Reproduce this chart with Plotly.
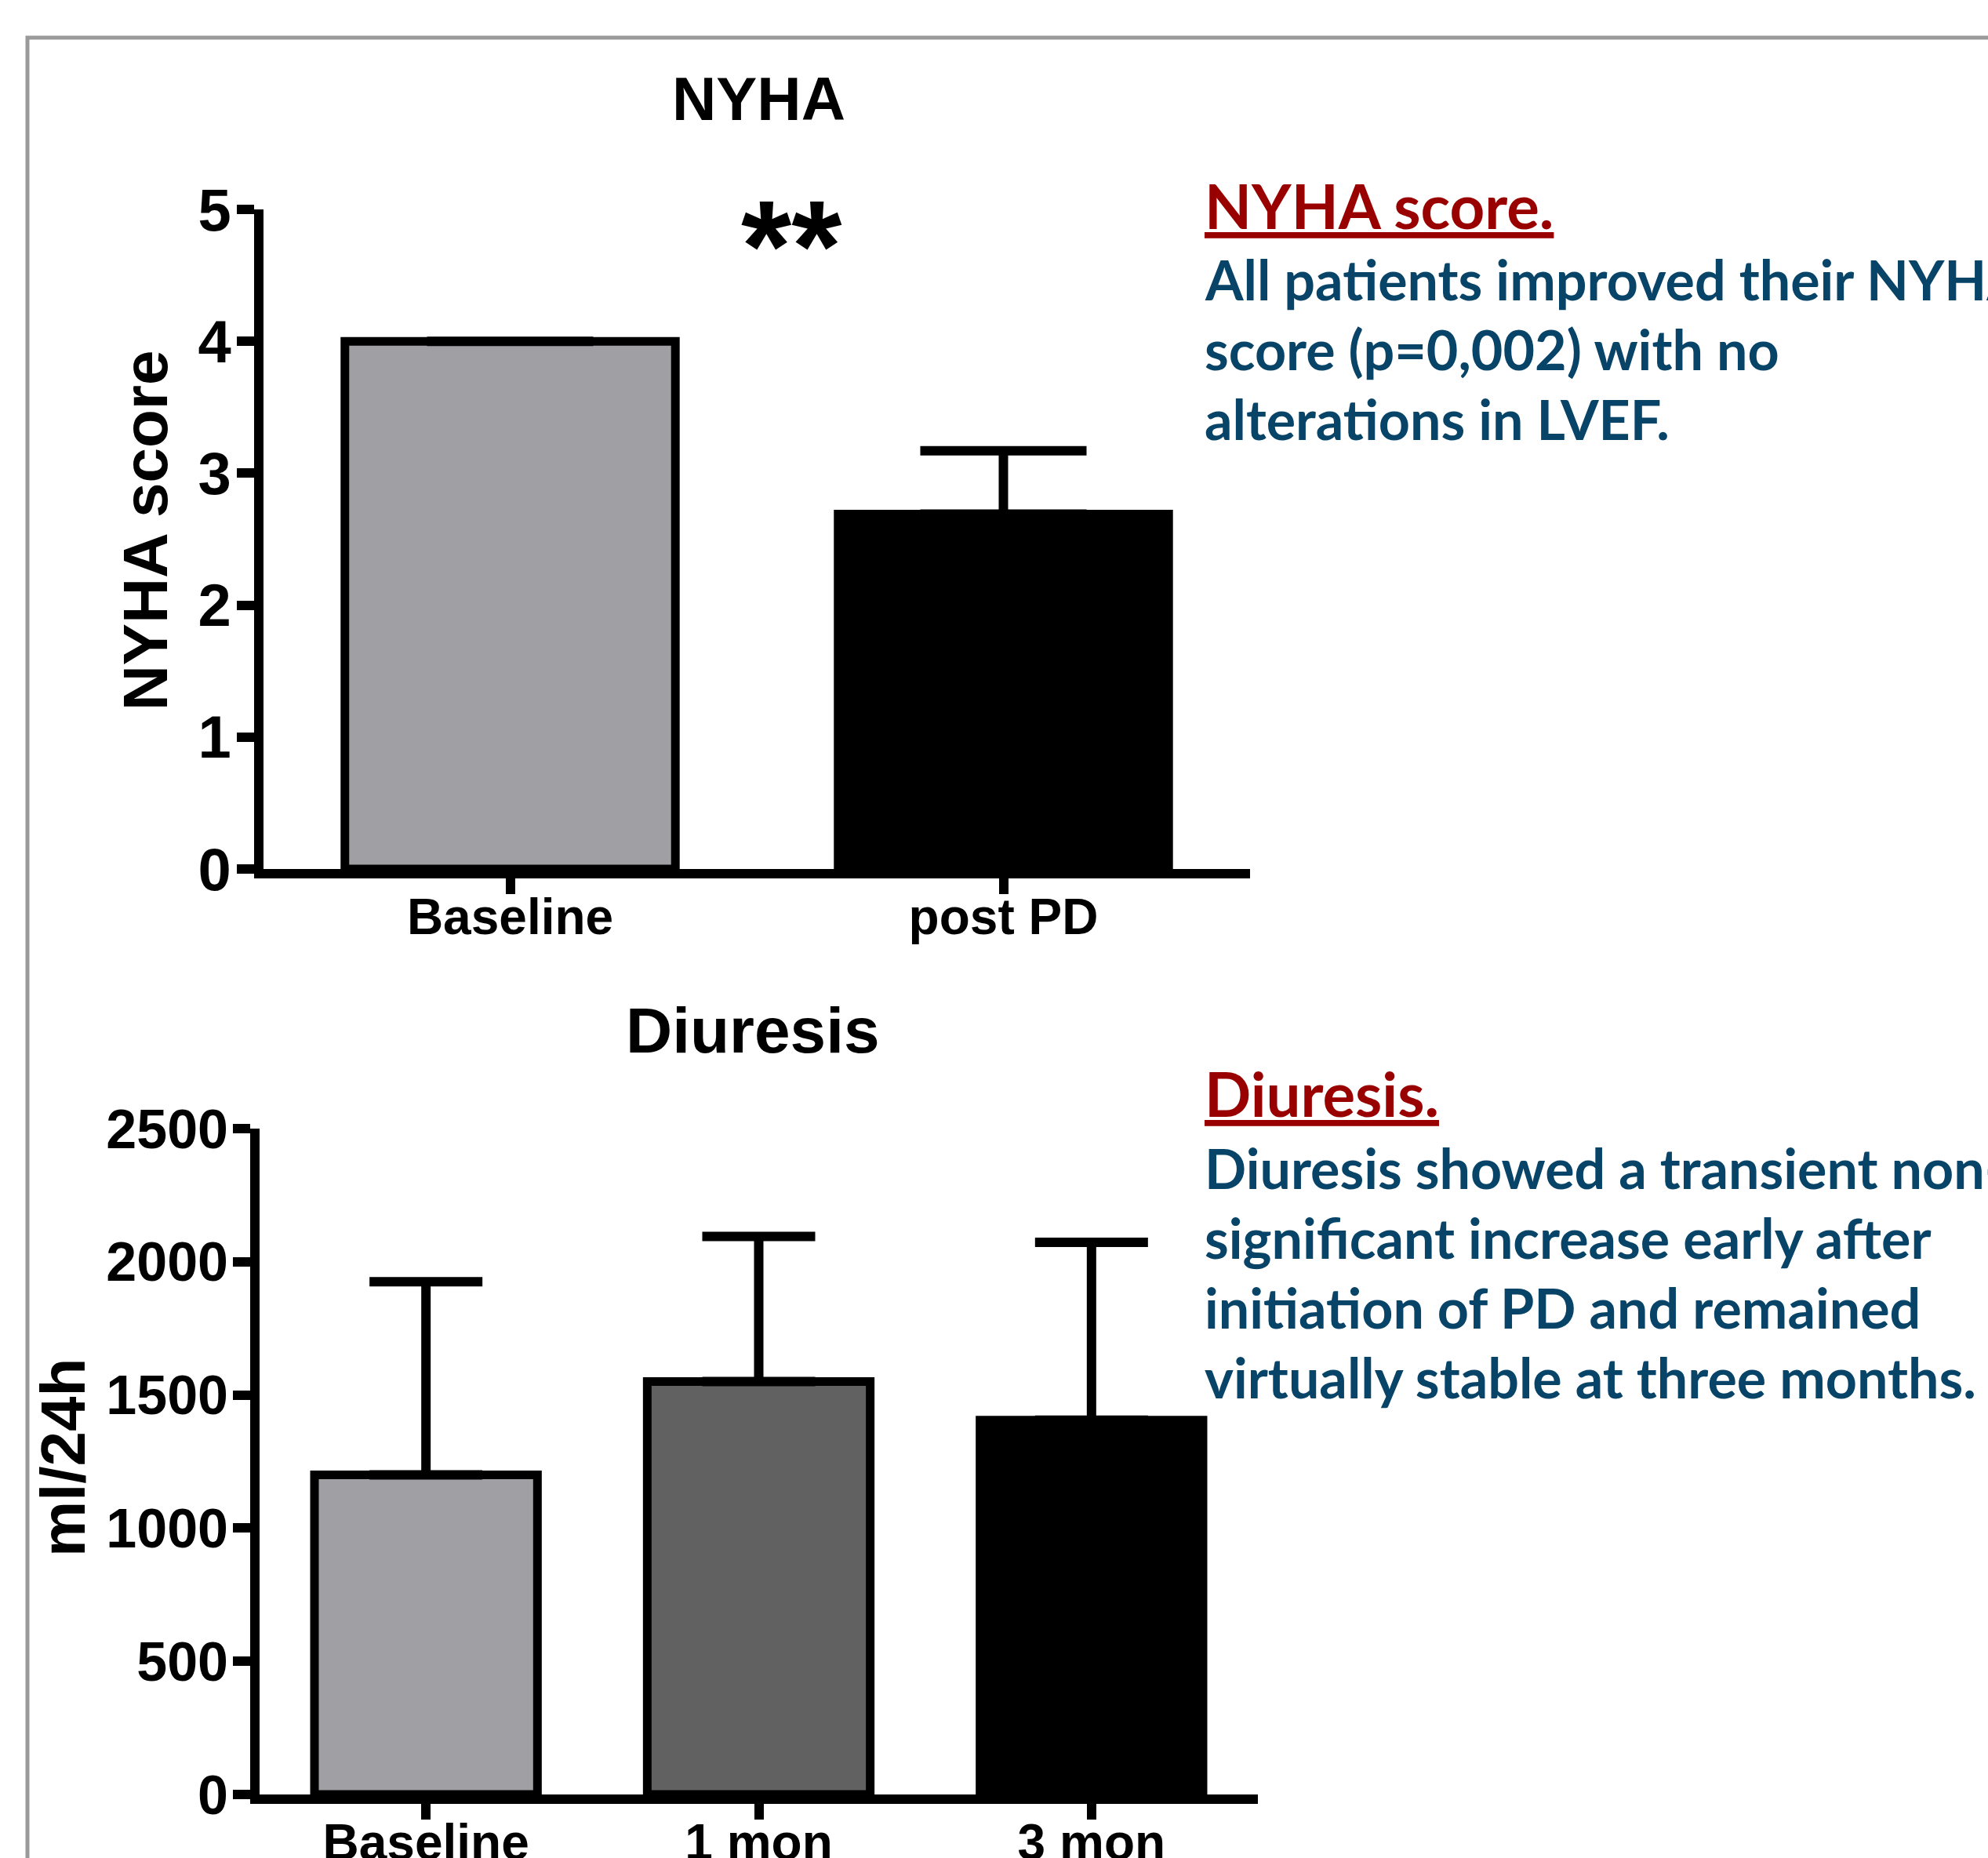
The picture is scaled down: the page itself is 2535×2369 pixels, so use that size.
import plotly.graph_objects as go

W, H = 2535, 2369

# ---------------- data ----------------
nyha_categories = ["Baseline", "post PD"]
nyha_values = [4.0, 2.69]
nyha_sd = [0.0, 0.48]
nyha_colors = ["#a09fa4", "#000000"]
nyha_ticks = [0, 1, 2, 3, 4, 5]

diu_categories = ["Baseline", "1 mon", "3 mon"]
diu_values = [1200, 1550, 1405]
diu_sd = [725, 545, 668]
diu_colors = ["#a09fa4", "#616161", "#000000"]
diu_ticks = [0, 500, 1000, 1500, 2000, 2500]

# ---------------- helpers ----------------
def px_x(p):
    return p / W

def px_y(p):
    return (H - p) / H

CHART_FONT = "Liberation Sans, Arial, sans-serif"
TEXT_FONT = "Lato, Open Sans, sans-serif"
RED = "#990000"
BLUE = "#084468"

fig = go.Figure()

fig.add_trace(go.Bar(
    x=list(range(len(nyha_categories))), y=nyha_values,
    width=0.67,
    marker=dict(color=nyha_colors, line=dict(color="black", width=11)),
    error_y=dict(type="data", symmetric=False, array=nyha_sd,
                 arrayminus=[0] * len(nyha_sd), color="black",
                 thickness=12, width=106),
    xaxis="x", yaxis="y", showlegend=False,
))

fig.add_trace(go.Bar(
    x=list(range(len(diu_categories))), y=diu_values,
    width=0.67,
    marker=dict(color=diu_colors, line=dict(color="black", width=11)),
    error_y=dict(type="data", symmetric=False, array=diu_sd,
                 arrayminus=[0] * len(diu_sd), color="black",
                 thickness=12, width=72),
    xaxis="x2", yaxis="y2", showlegend=False,
))

axis_common = dict(
    showline=True, linecolor="black", linewidth=12,
    ticks="outside", tickcolor="black", tickwidth=12,
    showgrid=False, zeroline=False, fixedrange=True, automargin=False,
)

fig.update_layout(
    width=W, height=H,
    margin=dict(l=0, r=0, t=0, b=0, pad=0, autoexpand=False),
    paper_bgcolor="white", plot_bgcolor="white",
    bargap=0,
    xaxis=dict(
        domain=[px_x(336), px_x(1594)], anchor="y",
        range=[-0.5, len(nyha_categories) - 0.5],
        tickmode="array", tickvals=list(range(len(nyha_categories))),
        ticktext=nyha_categories, ticklen=20, ticklabelstandoff=-26,
        tickfont=dict(family=CHART_FONT, size=64, color="black", weight="bold"),
        **axis_common,
    ),
    yaxis=dict(
        domain=[px_y(1108), px_y(267)], anchor="x",
        range=[0, 5], tickmode="array", tickvals=nyha_ticks, ticklen=22,
        ticklabelstandoff=-8,
        tickfont=dict(family=CHART_FONT, size=76, color="black", weight="bold"),
        **axis_common,
    ),
    xaxis2=dict(
        domain=[px_x(331), px_x(1604)], anchor="y2",
        range=[-0.5, len(diu_categories) - 0.5],
        tickmode="array", tickvals=list(range(len(diu_categories))),
        ticktext=diu_categories, ticklen=20, ticklabelstandoff=-26,
        tickfont=dict(family=CHART_FONT, size=64, color="black", weight="bold"),
        **axis_common,
    ),
    yaxis2=dict(
        domain=[px_y(2288), px_y(1439)], anchor="x2",
        range=[0, 2500], tickmode="array", tickvals=diu_ticks, ticklen=22,
        ticklabelstandoff=-8,
        tickfont=dict(family=CHART_FONT, size=70, color="black", weight="bold"),
        **axis_common,
    ),
)

ann = []
# chart titles
ann.append(dict(text="NYHA", x=px_x(967), y=px_y(126), xref="paper", yref="paper",
                xanchor="center", yanchor="middle", showarrow=False,
                font=dict(family=CHART_FONT, size=78, color="black", weight="bold")))
ann.append(dict(text="Diuresis", x=px_x(960), y=px_y(1313), xref="paper", yref="paper",
                xanchor="center", yanchor="middle", showarrow=False,
                font=dict(family=CHART_FONT, size=82, color="black", weight="bold")))
# y axis titles
ann.append(dict(text="NYHA score", x=px_x(186), y=px_y(677), xref="paper", yref="paper",
                xanchor="center", yanchor="middle", showarrow=False, textangle=-90,
                font=dict(family=CHART_FONT, size=80, color="black", weight="bold")))
ann.append(dict(text="ml/24h", x=px_x(80), y=px_y(1859), xref="paper", yref="paper",
                xanchor="center", yanchor="middle", showarrow=False, textangle=-90,
                font=dict(family=CHART_FONT, size=80, color="black", weight="bold")))
# significance
ann.append(dict(text="**", x=0.57, y=4.72, xref="x", yref="y",
                xanchor="center", yanchor="middle", showarrow=False,
                font=dict(family=CHART_FONT, size=165, color="black", weight="bold")))

# side texts
TX = px_x(1534)
ann.append(dict(text="<u>NYHA score.</u>", x=TX, y=px_y(262), xref="paper", yref="paper",
                xanchor="left", yanchor="middle", showarrow=False,
                font=dict(family=TEXT_FONT, size=78, color=RED, weight="bold")))
nyha_lines = ["All patients improved their NYHA",
              "score (p=0,002) with no",
              "alterations in LVEF."]
for i, line in enumerate(nyha_lines):
    ann.append(dict(text=line, x=TX, y=px_y(356 + 89 * i), xref="paper", yref="paper",
                    xanchor="left", yanchor="middle", showarrow=False,
                    font=dict(family=TEXT_FONT, size=70, color=BLUE, weight="bold")))

ann.append(dict(text="<u>Diuresis.</u>", x=TX, y=px_y(1394), xref="paper", yref="paper",
                xanchor="left", yanchor="middle", showarrow=False,
                font=dict(family=TEXT_FONT, size=78, color=RED, weight="bold")))
diu_lines = ["Diuresis showed a transient non-",
             "significant increase early after",
             "initiation of PD and remained",
             "virtually stable at three months."]
for i, line in enumerate(diu_lines):
    ann.append(dict(text=line, x=TX, y=px_y(1489 + 89 * i), xref="paper", yref="paper",
                    xanchor="left", yanchor="middle", showarrow=False,
                    font=dict(family=TEXT_FONT, size=70, color=BLUE, weight="bold")))

fig.update_layout(annotations=ann)

# outer frame (extends beyond right and bottom edges)
fig.add_shape(type="rect", xref="paper", yref="paper",
              x0=px_x(35), x1=1.2, y0=-0.2, y1=px_y(48),
              line=dict(color="#9a9a9a", width=5), fillcolor="rgba(0,0,0,0)",
              layer="below")

fig.write_html("out.html",
               config={"displayModeBar": False, "staticPlot": True},
               post_script="document.body.style.margin='0px';"
                           "document.body.style.overflow='hidden';")
